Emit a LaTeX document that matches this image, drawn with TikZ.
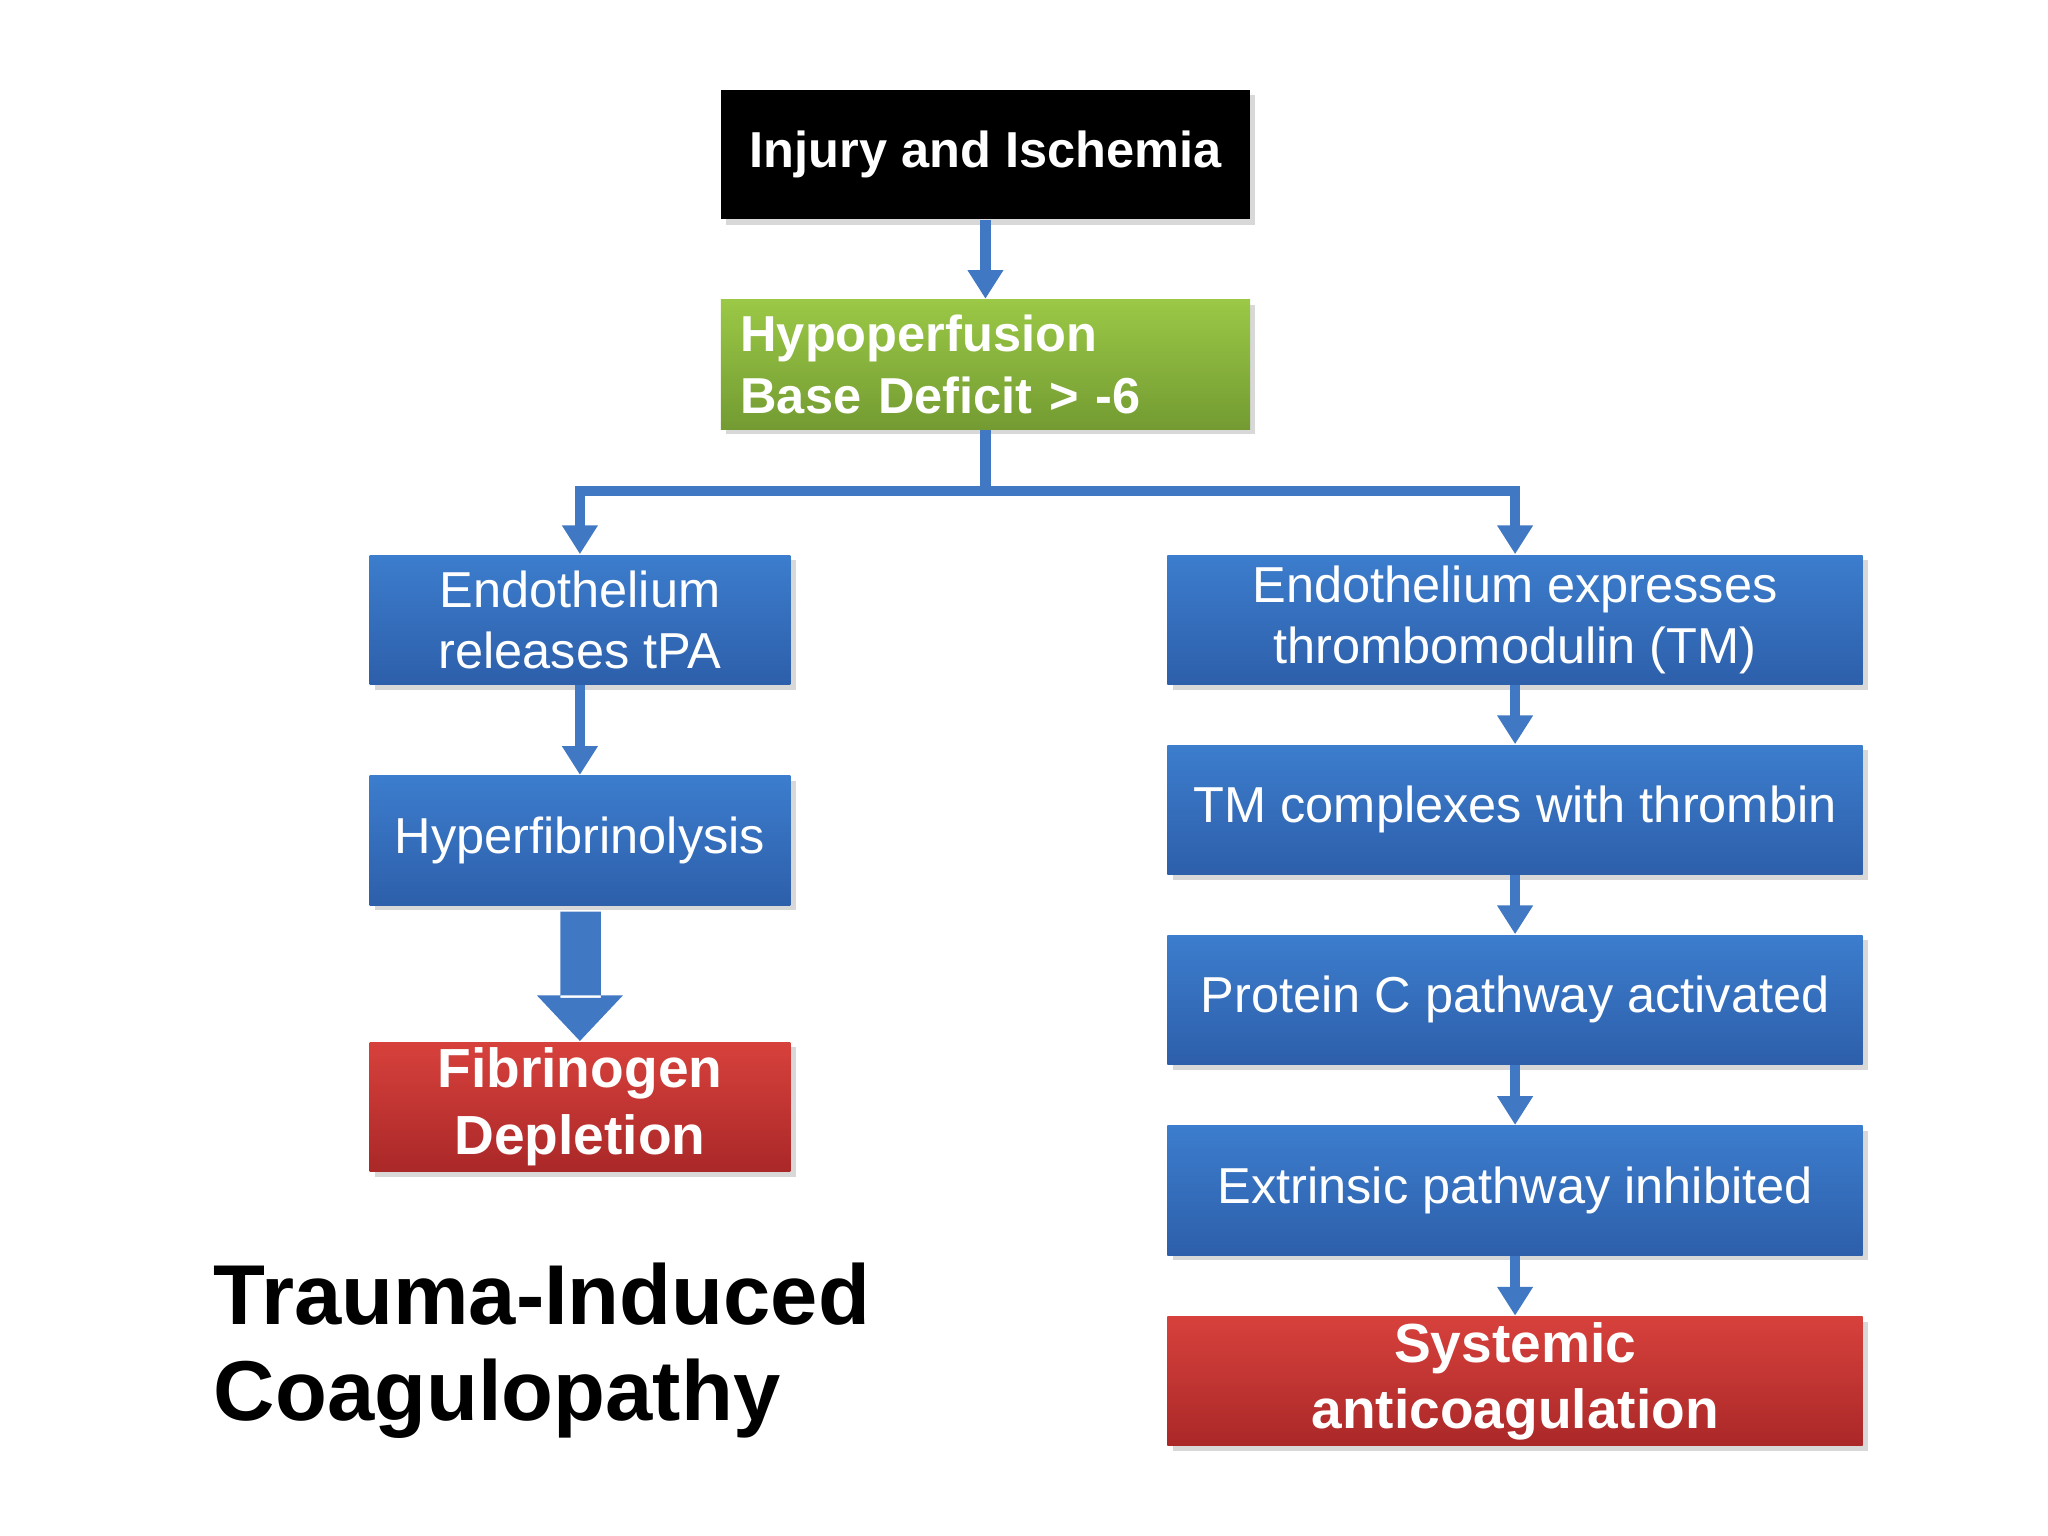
\documentclass[tikz,border=0pt]{standalone}
\usepackage{fontspec}
\setmainfont{Liberation Sans}
\usetikzlibrary{shadows,arrows.meta}
\definecolor{btop}{RGB}{60,125,205}
\definecolor{bbot}{RGB}{45,95,170}
\definecolor{rtop}{RGB}{215,65,60}
\definecolor{rbot}{RGB}{170,40,40}
\definecolor{gtop}{RGB}{155,200,70}
\definecolor{gbot}{RGB}{115,155,50}
\definecolor{conncol}{RGB}{65,120,195}
\begin{document}
\begin{tikzpicture}[x=0.01cm,y=-0.01cm,
 box/.style={draw=none,minimum height=0.99cm,inner xsep=0pt,inner ysep=1pt,align=center,text=white,font=\fontsize{11}{13.2}\selectfont,drop shadow={opacity=0.3,shadow xshift=0.04cm,shadow yshift=-0.04cm}},
 bluebox/.style={box,top color=btop,bottom color=bbot},
 redbox/.style={box,top color=rtop,bottom color=rbot,font=\bfseries\fontsize{12}{14.5}\selectfont},
 conn/.style={draw=conncol,line width=0.08cm,-{Triangle[width=0.26cm,length=0.22cm]}}]
\useasboundingbox (0,0) rectangle (1568,1176);
\fill[white] (0,0) rectangle (1568,1176);
\node[box,fill=black,minimum width=4.05cm,font=\bfseries\fontsize{11}{13}\selectfont] (inj) at (754.5,118.5) {Injury and Ischemia};
\node[box,minimum width=4.05cm,top color=gtop,bottom color=gbot,font=\bfseries\fontsize{11}{13.5}\selectfont,align=left,text width=3.75cm] (hyp) at (754.5,279) {Hypoperfusion\\Base Deficit > -6};
\node[bluebox,minimum width=3.22cm] (tpa) at (444,474.5) {Endothelium\\releases tPA};
\node[bluebox,minimum width=3.22cm] (hf) at (444,643.5) {Hyperfibrinolysis};
\node[redbox,minimum width=3.22cm] (fib) at (444,847.5) {Fibrinogen\\Depletion};
\node[bluebox,minimum width=5.32cm] (r1) at (1160,474.5) {Endothelium expresses\\thrombomodulin (TM)};
\node[bluebox,minimum width=5.32cm] (r2) at (1160,620) {TM complexes with thrombin};
\node[bluebox,minimum width=5.32cm] (r3) at (1160,765.5) {Protein C pathway activated};
\node[bluebox,minimum width=5.32cm] (r4) at (1160,911.5) {Extrinsic pathway inhibited};
\node[redbox,minimum width=5.32cm] (r5) at (1160,1057.5) {Systemic\\anticoagulation};
\coordinate (j) at (754.5,376);
\draw[conn] (inj) -- (hyp);
\draw[conn,-] (hyp) -- (j);
\draw[conn] (j) -| (tpa);
\draw[conn] (j) -| (r1);
\draw[conn] (tpa) -- (hf);
\draw[conn] (r1) -- (r2);
\draw[conn] (r2) -- (r3);
\draw[conn] (r3) -- (r4);
\draw[conn] (r4) -- (r5);
\fill[conncol] (429,698) rectangle (460,764) (411,762) -- (477,762) -- (444,797) -- cycle;
\node[anchor=west,align=left,inner sep=0pt,font=\bfseries\fontsize{18.5}{21}\selectfont] (t) at (163,1034) {Trauma-Induced\\Coagulopathy};
\end{tikzpicture}
\end{document}
